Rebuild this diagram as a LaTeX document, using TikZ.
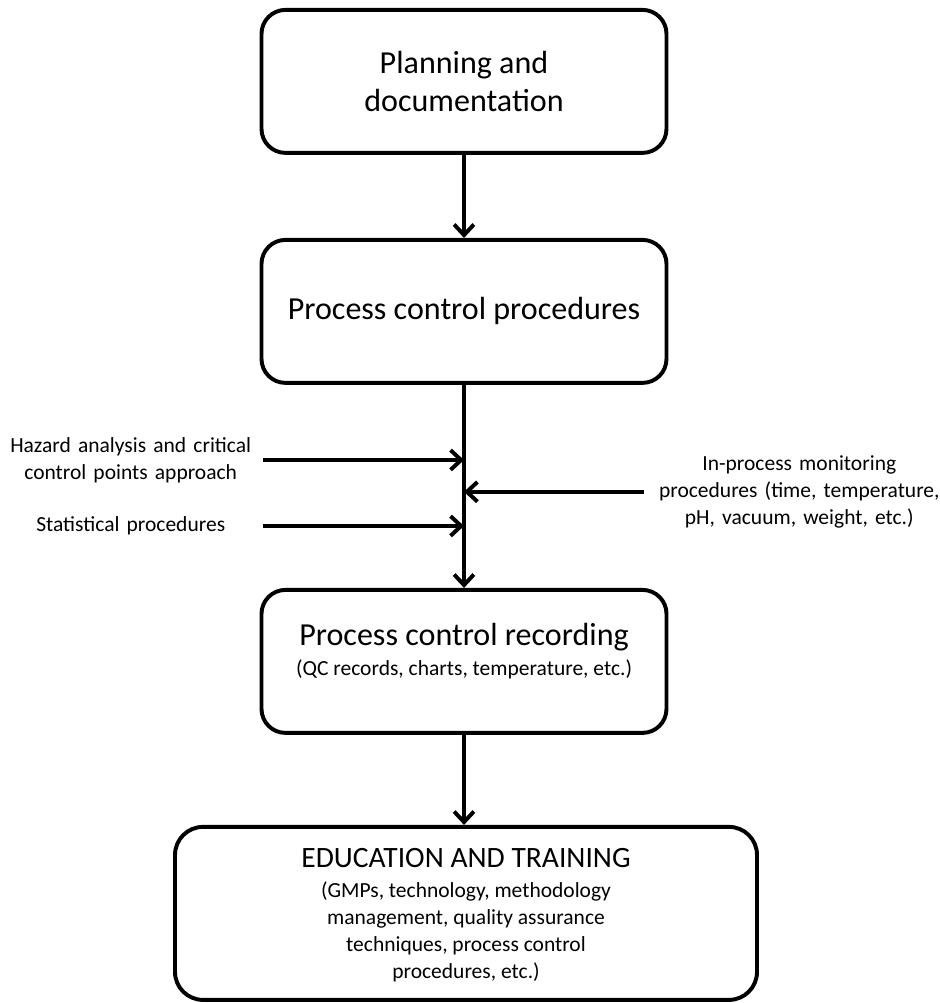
\documentclass[tikz,border=0pt]{standalone}
\usepackage{fontspec}
\setmainfont{Carlito}
\usetikzlibrary{arrows.meta}
\newcommand{\ttlsize}{\fontsize{22.8pt}{27.4pt}\selectfont}
\newcommand{\subsize}{\fontsize{15.3pt}{19pt}\selectfont}
\newcommand{\edusize}{\fontsize{21pt}{25pt}\selectfont}
\tikzset{
  box/.style={draw=black, line width=2.8pt, rounded corners=0.6cm,
              minimum width=10.125cm, minimum height=3.575cm,
              align=center, inner sep=4pt, font=\ttlsize},
  flow/.style={line width=2.8pt, -{Straight Barb[length=7.5pt, width=14pt]}},
  side/.style={align=center, inner sep=0pt, font=\subsize},
}

\begin{document}
\begin{tikzpicture}
    \useasboundingbox (0,0) rectangle (23.5,25.075);
    %% main boxes
    \node[box] (plan) at (11.6,23.04) {Planning and\\documentation};
    \node[box] (proc) at (11.6,17.29) {Process control procedures};
    \node[box, font=\subsize, text depth=17pt] (rec) at (11.6,8.54)
      {{\ttlsize Process control recording}\\[2.3pt]
       (QC records, charts, temperature, etc.)};
    \node[box, font=\subsize, text depth=-8pt, rounded corners=0.7cm,
          minimum width=14.55cm, minimum height=4.325cm]
      (edu) at (11.65,2.24)
      {{\edusize EDUCATION AND TRAINING}\\[2.3pt]
       (GMPs, technology, methodology\\management, quality assurance\\
       techniques, process control\\procedures, etc.)};
    %% side inputs
    \node[side, anchor=east, text width=6.6cm] (haccp) at (6.575,13.575)
      {Hazard analysis and critical\\control points approach};
    \node[side, anchor=east, text width=6.6cm] (stat) at (6.575,11.925)
      {Statistical procedures};
    \node[side, anchor=west, text width=7.75cm] (monitor) at (16.1,12.78)
      {In-process monitoring\\procedures (time, temperature,\\pH, vacuum, weight, etc.)};
    %% connectors
    \draw[flow] (plan) -- (proc);
    \draw[flow] (proc) -- (rec);
    \draw[flow] (rec) -- (rec.south |- edu.north);
    \draw[flow] (haccp.east) -- (haccp.east -| proc.south);
    \draw[flow] (stat.east) -- (stat.east -| proc.south);
    \draw[flow] (monitor.west) -- (monitor.west -| proc.south);
\end{tikzpicture}
\end{document}
